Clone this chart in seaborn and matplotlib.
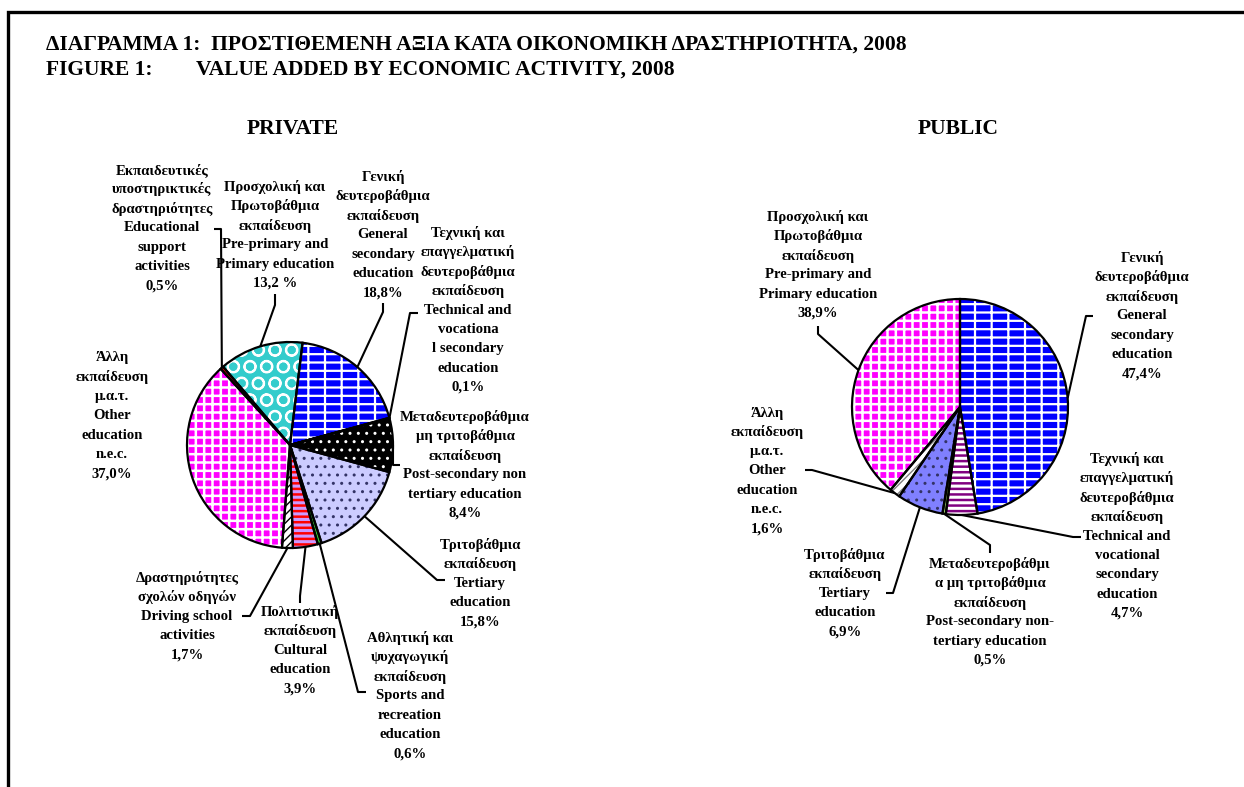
import numpy as np
import matplotlib
matplotlib.use("Agg")
import matplotlib.pyplot as plt
import seaborn as sns

W, H = 1244, 787

TITLE_GR = "ΔΙΑΓΡΑΜΜΑ 1:  ΠΡΟΣΤΙΘΕΜΕΝΗ ΑΞΙΑ ΚΑΤΑ ΟΙΚΟΝΟΜΙΚΗ ΔΡΑΣΤΗΡΙΟΤΗΤΑ, 2008"
TITLE_EN_LEFT = "FIGURE 1:"
TITLE_EN = "VALUE ADDED BY ECONOMIC ACTIVITY, 2008"

# Private sector, clockwise from the top
PRIVATE_LABELS = [
    "Γενική\nδευτεροβάθμια\nεκπαίδευση\nGeneral\nsecondary\neducation",
    "Τεχνική και\nεπαγγελματική\nδευτεροβάθμια\nεκπαίδευση\nTechnical and\nvocationa\nl secondary\neducation",
    "Μεταδευτεροβάθμια\nμη τριτοβάθμια\nεκπαίδευση\nPost-secondary non\ntertiary education",
    "Τριτοβάθμια\nεκπαίδευση\nTertiary\neducation",
    "Αθλητική και\nψυχαγωγική\nεκπαίδευση\nSports and\nrecreation\neducation",
    "Πολιτιστική\nεκπαίδευση\nCultural\neducation",
    "Δραστηριότητες\nσχολών οδηγών\nDriving school\nactivities",
    "Άλλη\nεκπαίδευση\nμ.α.τ.\nOther\neducation\nn.e.c.",
    "Εκπαιδευτικές\nυποστηρικτικές\nδραστηριότητες\nEducational\nsupport\nactivities",
    "Προσχολική και\nΠρωτοβάθμια\nεκπαίδευση\nPre-primary and\nPrimary education",
]
PRIVATE_VALUES = [18.8, 0.1, 8.4, 15.8, 0.6, 3.9, 1.7, 37.0, 0.5, 13.2]
PRIVATE_PCT_SEP = ["", "", "", "", "", "", "", "", "", " "]

# Public sector, clockwise from the top
PUBLIC_LABELS = [
    "Γενική\nδευτεροβάθμια\nεκπαίδευση\nGeneral\nsecondary\neducation",
    "Τεχνική και\nεπαγγελματική\nδευτεροβάθμια\nεκπαίδευση\nTechnical and\nvocational\nsecondary\neducation",
    "Μεταδευτεροβάθμι\nα μη τριτοβάθμια\nεκπαίδευση\nPost-secondary non-\ntertiary education",
    "Τριτοβάθμια\nεκπαίδευση\nTertiary\neducation",
    "Άλλη\nεκπαίδευση\nμ.α.τ.\nOther\neducation\nn.e.c.",
    "Προσχολική και\nΠρωτοβάθμια\nεκπαίδευση\nPre-primary and\nPrimary education",
]
PUBLIC_VALUES = [47.4, 4.7, 0.5, 6.9, 1.6, 38.9]
PUBLIC_PCT_SEP = ["", "", "", "", "", ""]

# fill styles (face, hatch, hatch colour, hatch width)
PRIVATE_STYLE = [
    ("#0000FF", "--|", "white", 1.6),
    ("#800080", "", None, 1.0),
    ("#000000", "..", "white", 1.0),
    ("#CCCCFF", "..", "#333366", 1.0),
    ("#33CC33", "", None, 1.0),
    ("#FF0000", "---", "#CC99FF", 2.2),
    ("#FFFFFF", "////", "black", 1.0),
    ("#FF00FF", "++", "white", 1.8),
    ("#FF0000", "", None, 1.0),
    ("#33CCCC", "O", "white", 1.4),
]
PUBLIC_STYLE = [
    ("#0000FF", "--|", "white", 1.6),
    ("#800080", "---", "white", 2.2),
    ("#99CC66", "", None, 1.0),
    ("#8080FF", "..", "#333366", 1.0),
    ("#FFFFFF", "////", "#808080", 1.0),
    ("#FF00FF", "++", "white", 1.8),
]

# layout in pixels: label (centre x, first line y) and leader elbow / tick end
PRIVATE_TEXT_XY = [(383, 177), (468, 233), (465, 417), (480, 545), (410, 638),
                   (300, 612), (187, 578), (112, 358), (162, 170), (275, 187)]
PRIVATE_LEADERS = [[(383, 312), (383, 303)], [(410, 313), (418, 313)],
                   [(393, 465), (400, 465)], [(437, 580), (445, 580)],
                   [(358, 692), (366, 692)], [(300, 596), (300, 603)],
                   [(250, 616), (242, 616)], None,
                   [(221, 229), (214, 229)], [(275, 305), (275, 294)]]
PUBLIC_TEXT_XY = [(1142, 258), (1127, 459), (990, 564), (845, 555), (767, 413), (818, 217)]
PUBLIC_LEADERS = [[(1086, 316), (1093, 316)], [(1073, 537), (1081, 537)],
                  [(990, 545), (990, 553)], [(893, 593), (886, 593)],
                  [(812, 470), (805, 470)], [(818, 334), (818, 326)]]

LINE_STEP = 19.3
LABEL_SIZE = 10.6
TITLE_SIZE = 15.5

sns.set_theme(style="white")
plt.rcParams['font.family'] = ['Liberation Serif', 'DejaVu Serif']
plt.rcParams['font.weight'] = 'bold'
plt.rcParams['text.color'] = 'black'
plt.rcParams['hatch.linewidth'] = 1.4

fig = plt.figure(figsize=(W / 100, H / 100), dpi=100)
fig.patch.set_facecolor("white")
over = fig.add_axes([0, 0, 1, 1])
over.set_xlim(0, W)
over.set_ylim(H, 0)
over.axis('off')
over.set_zorder(5)


def fmt_pct(v, sep):
    return f"{v:.1f}".replace('.', ',') + sep + "%"


def draw_pie(cx, cy, r, values, start, styles, labels, seps, text_xy, leaders):
    ax = fig.add_axes([(cx - 1.25 * r) / W, (H - cy - 1.25 * r) / H, 2.5 * r / W, 2.5 * r / H])
    wedges, _ = ax.pie(values, startangle=start, counterclock=False,
                       colors=[s[0] for s in styles], wedgeprops=dict(linewidth=0))
    for w, (face, hatch, hc, hlw) in zip(wedges, styles):
        if hatch:
            w.set_hatch(hatch)
            w.set_edgecolor(hc)
            if hasattr(w, "set_hatch_linewidth"):
                w.set_hatch_linewidth(hlw)
    ax.pie(values, startangle=start, counterclock=False,
           wedgeprops=dict(fill=False, edgecolor="black", linewidth=1.6))
    ax.set_xlim(-1.25, 1.25)
    ax.set_ylim(-1.25, 1.25)
    ax.axis('off')

    for w, v, lab, sep, (tx, ty), lead in zip(wedges, values, labels, seps, text_xy, leaders):
        lines = lab.split("\n") + [fmt_pct(v, sep)]
        for i, line in enumerate(lines):
            over.text(tx, ty + i * LINE_STEP, line, ha='center', va='center',
                      fontsize=LABEL_SIZE, fontweight='bold', color='black')
        if lead is None:
            continue
        th = np.deg2rad((w.theta1 + w.theta2) / 2)
        ex, ey = cx + r * np.cos(th), cy - r * np.sin(th)
        xs = [ex] + [p[0] for p in lead]
        ys = [ey] + [p[1] for p in lead]
        over.plot(xs, ys, color='black', lw=1.5, solid_capstyle='butt')


draw_pie(290, 445, 103, PRIVATE_VALUES, 83, PRIVATE_STYLE, PRIVATE_LABELS,
         PRIVATE_PCT_SEP, PRIVATE_TEXT_XY, PRIVATE_LEADERS)
draw_pie(960, 407, 108, PUBLIC_VALUES, 90, PUBLIC_STYLE, PUBLIC_LABELS,
         PUBLIC_PCT_SEP, PUBLIC_TEXT_XY, PUBLIC_LEADERS)

# titles
title_kw = dict(fontsize=TITLE_SIZE, fontweight='bold', color='black', va='center')
over.text(46, 45, TITLE_GR, ha='left', **title_kw)
over.text(46, 70, TITLE_EN_LEFT, ha='left', **title_kw)
over.text(196, 70, TITLE_EN, ha='left', **title_kw)
over.text(293, 129, "PRIVATE", ha='center', **title_kw)
over.text(958, 129, "PUBLIC", ha='center', **title_kw)

# frame
over.plot([8, 8, W], [H, 12, 12], color='black', lw=2.4, solid_joinstyle='miter')

fig.savefig("out.png", dpi=100, facecolor="white")
